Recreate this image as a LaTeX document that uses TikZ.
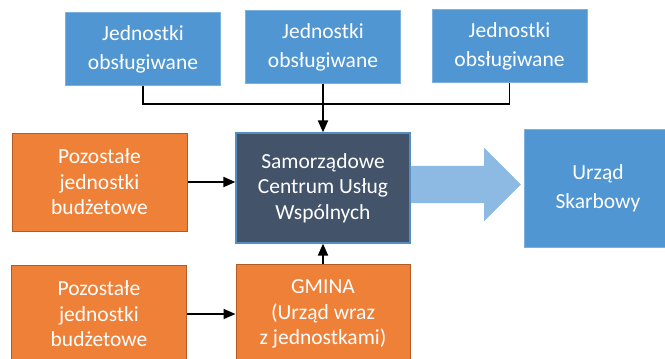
\documentclass[tikz,border=0pt]{standalone}
\usepackage{fontspec}
\setmainfont{Carlito}
\usepackage{tikz}
\usetikzlibrary{shapes,arrows.meta,positioning,calc}
\definecolor{bluefill}{RGB}{80,150,210}
\definecolor{bluerim}{RGB}{125,176,222}
\definecolor{darkfill}{RGB}{67,84,106}
\definecolor{darkrim}{RGB}{84,140,196}
\definecolor{orangefill}{RGB}{239,128,56}
\definecolor{orangerim}{RGB}{176,92,36}
\definecolor{arrowfill}{RGB}{141,186,227}
\tikzset{
blueblock/.style = {draw=bluerim, line width=0.8pt, fill=bluefill, rectangle, text=white, align=center,
  inner sep=0pt, minimum width=155pt, minimum height=73pt, font=\fontsize{21.5}{29}\selectfont},
darkblock/.style = {draw=darkrim, line width=1.2pt, fill=darkfill, rectangle, text=white, align=center,
  inner sep=0pt, minimum width=174pt, minimum height=110pt, font=\fontsize{21.5}{25.5}\selectfont},
orangeblock/.style = {draw=orangerim, line width=1pt, fill=orangefill, rectangle, text=white, align=center,
  inner sep=0pt, minimum width=175pt, minimum height=98pt, font=\fontsize{21.5}{25.5}\selectfont},
bigarrow/.style = {single arrow, fill=arrowfill, draw=none, inner xsep=0pt, inner ysep=18.5pt,
  single arrow head extend=18pt, minimum height=110pt},
tmp/.style = {coordinate},
link/.style = {line width=1.8pt}
}

\begin{document}
\begin{tikzpicture}[auto, node distance=224pt, >={Triangle[length=12pt,width=10pt]}]
  \useasboundingbox (0,0) rectangle (665pt,-359pt);
  \clip (0,0) rectangle (665pt,-359pt);
  \node [darkblock]                                                  (scuw)    at (323pt,-188pt) {Samorządowe\\Centrum Usług\\Wspólnych};
  \node [blueblock, above of=scuw, node distance=141pt]              (obsl2)   {Jednostki\\obsługiwane};
  \node [blueblock, left of=obsl2, node distance=180pt, yshift=-2pt] (obsl1)   {Jednostki\\obsługiwane};
  \node [blueblock, right of=obsl2, node distance=186.5pt, yshift=1pt] (obsl3) {Jednostki\\obsługiwane};
  \node [tmp, below of=obsl2, node distance=57pt]                    (tmp1)    {};
  \node [orangeblock, left of=scuw, node distance=223.5pt, yshift=6pt] (pozost1) {Pozostałe\\jednostki\\budżetowe};
  \node [orangeblock, below of=scuw, node distance=126pt, minimum width=174pt, minimum height=100pt] (gmina) {GMINA\\(Urząd wraz\\z jednostkami)};
  \node [orangeblock, left of=gmina, node distance=224pt]             (pozost2) {Pozostałe\\jednostki\\budżetowe};
  \node [blueblock, right of=scuw, node distance=275pt, minimum width=148pt, minimum height=118pt] (urzad) {Urząd\\Skarbowy};
  \node [bigarrow, right=0pt of scuw, yshift=3.5pt]                  (strzalka) {};

  \draw [link] (obsl1) -- (obsl1 |- tmp1) -- (obsl3 |- tmp1) -- (obsl3);
  \draw [link, ->] (obsl2) -- (scuw);
  \draw [link, ->] (pozost1) -- (pozost1 -| scuw.west);
  \draw [link, ->] (gmina) -- (scuw);
  \draw [link, ->] (pozost2) -- (gmina);
\end{tikzpicture}
\end{document}
